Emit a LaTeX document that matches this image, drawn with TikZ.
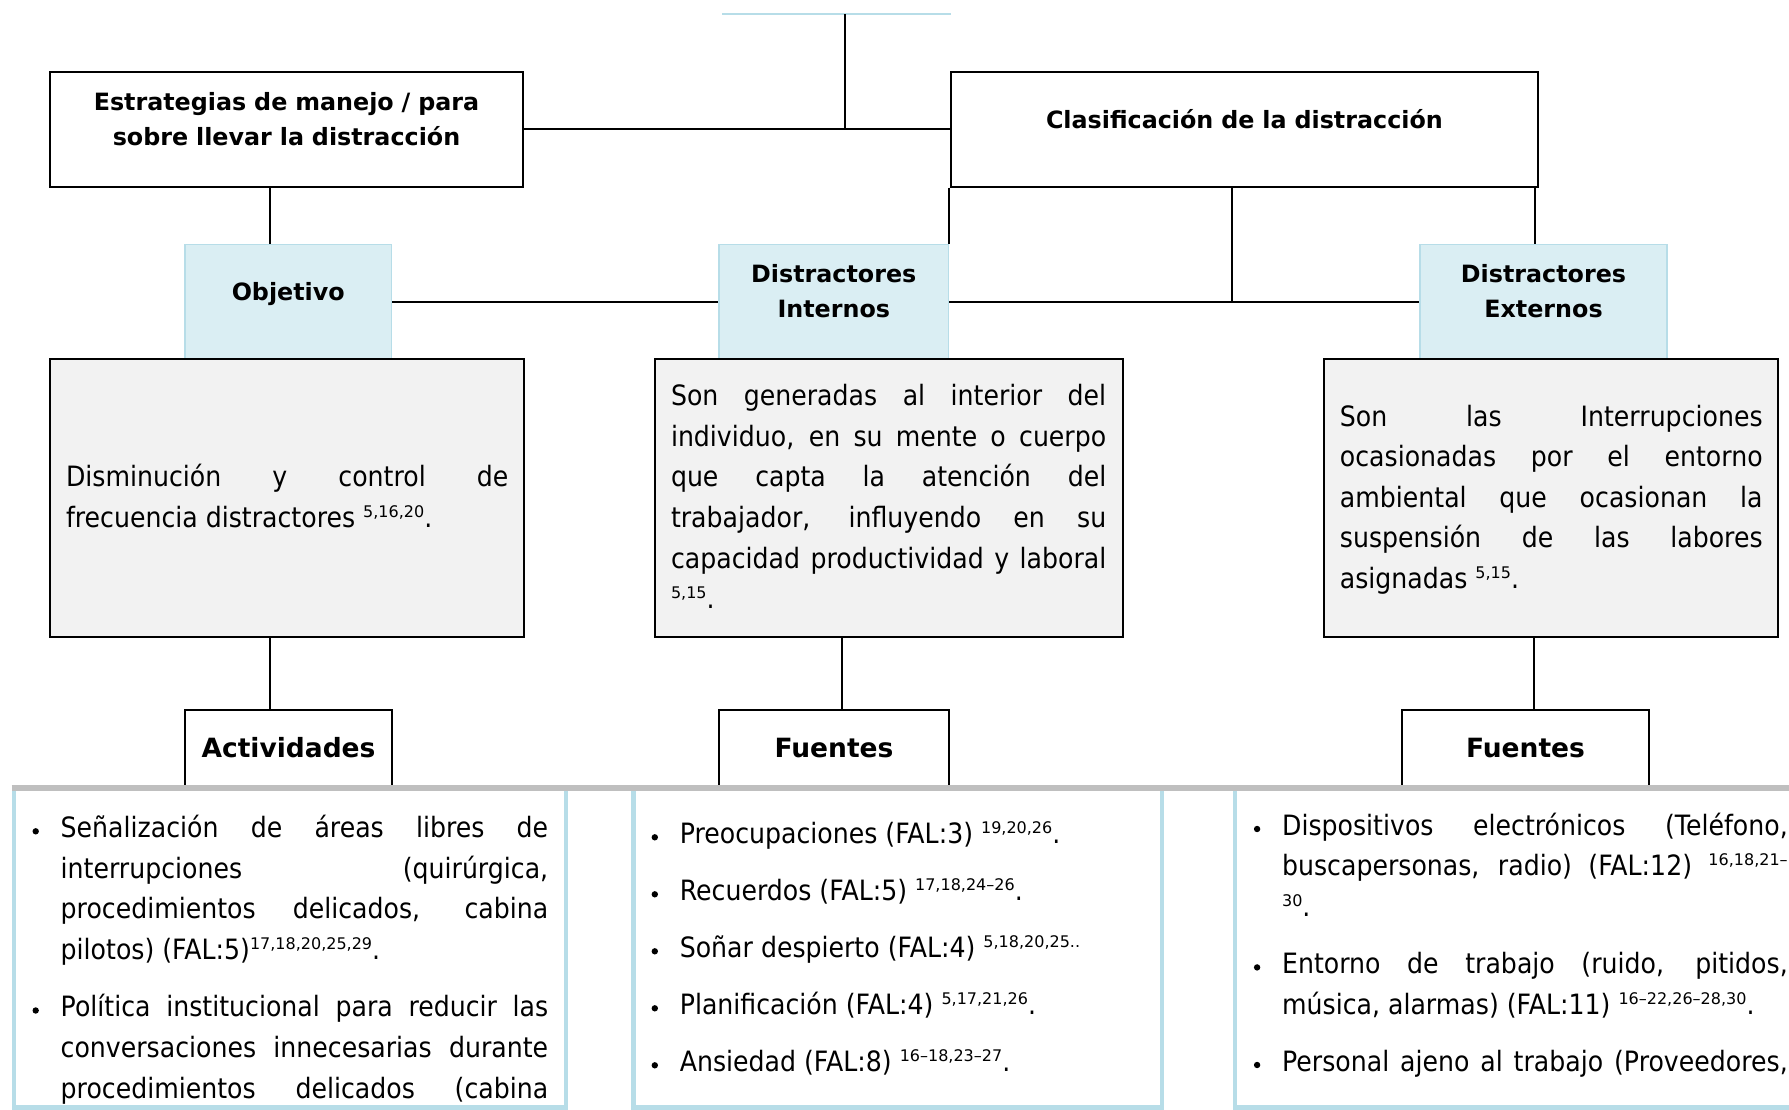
\documentclass[tikz,border=0pt]{standalone}
\usepackage{fontspec}
\setmainfont{DejaVu Sans}
\newfontfamily\bodyf{DejaVu Sans}[FakeStretch=0.9]
\newfontfamily\titlef{DejaVu Sans}
\definecolor{lbfill}{HTML}{DAEEF3}
\definecolor{lbline}{HTML}{B7DDE8}
\definecolor{grayfill}{HTML}{F2F2F2}
\definecolor{grayline}{HTML}{BFBFBF}
\hyphenpenalty=10000 \exhyphenpenalty=10000 \tolerance=10000
\newcommand\sps[1]{\raisebox{10pt}{\titlef\fontsize{16}{16}\selectfont #1}}
\newcommand\bul{\noindent\llap{\tikz[baseline=0pt]\fill (0pt,6pt) circle[radius=3.2pt];\hspace{21.8pt}}}
\tikzset{
  tbox/.style={draw=black, line width=2pt, fill=white, inner sep=0pt},
  bbox/.style={draw=lbline, line width=1.5pt, fill=lbfill, inner sep=0pt},
  gbox/.style={draw=black, line width=2pt, fill=grayfill, inner sep=0pt},
  lbox/.style={draw=lbline, line width=4.5pt, inner sep=0pt},
  conn/.style={draw=black, line width=2pt},
  ttext/.style={inner sep=0pt, align=center, font=\titlef\bfseries\fontsize{23.8}{35}\selectfont},
  htext/.style={inner sep=0pt, align=center, font=\titlef\bfseries\fontsize{26.5}{35}\selectfont},
  bodytext/.style={inner sep=0pt, align=justify, anchor=base west, font=\bodyf\fontsize{28}{40.6}\selectfont},
  listtext/.style={inner sep=0pt, align=justify, anchor=base west, font=\bodyf\fontsize{28}{40.8}\selectfont}
}
\begin{document}
\begin{tikzpicture}[x=1pt,y=-1pt]
\useasboundingbox (0,0) rectangle (1789,1109);
% top line
\coordinate (topL) at (722,14);
\coordinate (topR) at (951,14);
\coordinate (topM) at (844.5,14);
\draw[lbline, line width=2.7pt] (topL) -- (topR);
% title boxes
\node[tbox, minimum width=473pt, minimum height=115pt] (estr) at (286.5,129.2) {};
\node[tbox, minimum width=586.8pt, minimum height=115pt] (clas) at (1244.4,129.2) {};
\node[ttext, text width=473pt, anchor=base] (estrt) at (286.5,110.5) {Estrategias de manejo / para\\sobre llevar la distracción};
\node[ttext, text width=586pt, anchor=base] (clast) at (1244.4,128.3) {Clasificación de la distracción};
% blue boxes
\node[bbox, minimum width=206.9pt, minimum height=115pt] (obj) at (288.25,301.8) {};
\node[bbox, minimum width=229.6pt, minimum height=115pt] (int) at (833.8,301.8) {};
\node[bbox, minimum width=247pt, minimum height=115pt] (ext) at (1543.5,301.8) {};
\node[ttext, text width=206pt, anchor=base] (objt) at (288.25,300) {Objetivo};
\node[ttext, text width=229pt, anchor=base] (intt) at (833.8,282.7) {Distractores\\Internos};
\node[ttext, text width=247pt, anchor=base] (extt) at (1543.5,282.7) {Distractores\\Externos};
% gray boxes
\node[gbox, minimum width=474.5pt, minimum height=277.4pt] (gl) at (287,498) {};
\node[gbox, minimum width=468.5pt, minimum height=277.4pt] (gm) at (888.95,498) {};
\node[gbox, minimum width=453.8pt, minimum height=277.4pt] (gr) at (1550.9,498) {};
\node[bodytext, text width=442.4pt] (glt) at (65.8,486.7) {Disminución y control de\linebreak frecuencia distractores \sps{5,16,20}.};
\node[bodytext, text width=435.2pt] (gmt) at (670.8,405.7) {Son generadas al interior del\linebreak individuo, en su mente o cuerpo\linebreak que capta la atención del\linebreak trabajador, influyendo en su\linebreak capacidad productividad y laboral\linebreak \sps{5,15}.};
\node[bodytext, text width=422.7pt] (grt) at (1339.7,426) {Son las Interrupciones\linebreak ocasionadas por el entorno\linebreak ambiental que ocasionan la\linebreak suspensión de las labores\linebreak asignadas \sps{5,15}.};
% lower title boxes
\node[tbox, minimum width=207.5pt, minimum height=78pt] (act) at (288.5,749) {};
\node[tbox, minimum width=230pt, minimum height=78pt] (fm) at (834,749) {};
\node[tbox, minimum width=247pt, minimum height=78pt] (fr) at (1525.5,749) {};
\node[htext, text width=207pt, anchor=base] (actt) at (288.5,757.3) {Actividades};
\node[htext, text width=230pt, anchor=base] (fmt) at (834,757.3) {Fuentes};
\node[htext, text width=247pt, anchor=base] (frt) at (1525.5,757.3) {Fuentes};
% list boxes
\node[lbox, minimum width=552.25pt, minimum height=319.5pt] (ll) at (289.9,947.75) {};
\node[lbox, minimum width=528.5pt, minimum height=319.5pt] (lm) at (897.75,947.75) {};
\node[lbox, minimum width=665pt, minimum height=319.5pt] (lr) at (1567.5,947.75) {};
\node[listtext, text width=487.5pt] (llt) at (60.5,837.3) {\setlength\parskip{16pt}%
\bul Señalización de áreas libres de\linebreak interrupciones (quirúrgica,\linebreak procedimientos delicados, cabina\linebreak pilotos) (FAL:5)\sps{17,18,20,25,29}.\par
\bul Política institucional para reducir las\linebreak conversaciones innecesarias durante\linebreak {\parfillskip=0pt procedimientos delicados (cabina\par}};
\node[listtext, text width=460pt] (lmt) at (679.6,843.3) {\setlength\parskip{16.2pt}%
\bul Preocupaciones (FAL:3) \sps{19,20,26}.\par
\bul Recuerdos (FAL:5) \sps{17,18,24–26}.\par
\bul Soñar despierto (FAL:4) \sps{5,18,20,25..}\par
\bul Planificación (FAL:4) \sps{5,17,21,26}.\par
\bul Ansiedad (FAL:8) \sps{16–18,23–27}.};
\node[listtext, text width=505.6pt] (lrt) at (1281.9,835) {\setlength\parskip{16pt}%
\bul Dispositivos electrónicos (Teléfono,\linebreak buscapersonas, radio) (FAL:12) \sps{16,18,21–}\linebreak \sps{30}.\par
\bul Entorno de trabajo (ruido, pitidos,\linebreak música, alarmas) (FAL:11) \sps{16–22,26–28,30}.\par
\bul {\parfillskip=0pt Personal ajeno al trabajo (Proveedores,\par}};
% connector coordinates
\coordinate (xL) at (270,0);
\coordinate (xM) at (842,0);
\coordinate (xR) at (1534.3,0);
\coordinate (xC) at (1232,0);
\coordinate (xE) at (1535,0);
% connectors
\draw[conn] (topM) -- (topM |- estr.east);
\draw[conn] (estr.east) -- (clas.west);
\draw[conn] (clas.south -| int.north east) -- (int.north east);
\draw[conn] (clas.south -| xC) -- (xC |- ext.west);
\draw[conn] (clas.south -| xE) -- (ext.north -| xE);
\draw[conn] (int.east) -- (ext.west);
\draw[conn] (obj.east) -- (int.west);
\draw[conn] (estr.south -| xL) -- (obj.north -| xL);
\draw[conn] (gl.south -| xL) -- (act.north -| xL);
\draw[conn] (gm.south -| xM) -- (fm.north -| xM);
\draw[conn] (gr.south -| xR) -- (fr.north -| xR);
% gray separator
\coordinate (gsL) at (11.5,788);
\coordinate (gsR) at (1789,788);
\draw[grayline, line width=5.5pt] (gsL) -- (gsR);
\end{tikzpicture}
\end{document}
